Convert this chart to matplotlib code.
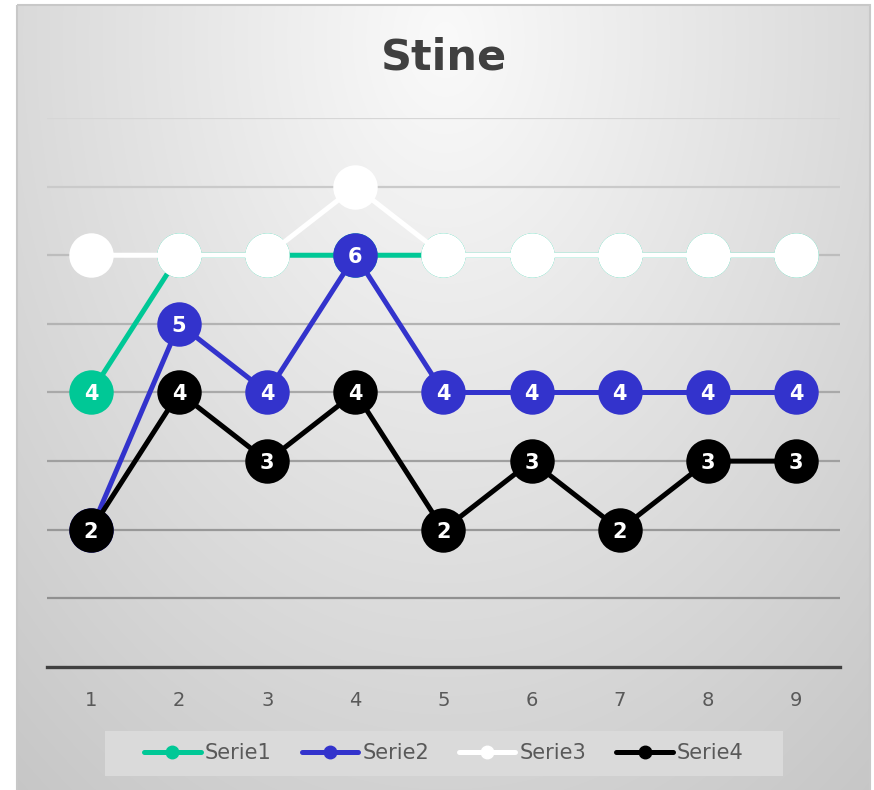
import numpy as np
import matplotlib
matplotlib.use("Agg")
import matplotlib.pyplot as plt
from matplotlib.patches import Rectangle
from matplotlib.lines import Line2D

# ---- data ----
categories = [1, 2, 3, 4, 5, 6, 7, 8, 9]
serie1 = [4, 6, 6, 6, 6, 6, 6, 6, 6]
serie2 = [2, 5, 4, 6, 4, 4, 4, 4, 4]
serie3 = [6, 6, 6, 7, 6, 6, 6, 6, 6]
serie4 = [2, 4, 3, 4, 2, 3, 2, 3, 3]
series_names = ["Serie1", "Serie2", "Serie3", "Serie4"]
series_colors = ["#00C896", "#3333CC", "#FFFFFF", "#000000"]
title = "Stine"

W, H = 874, 790
fig = plt.figure(figsize=(W / 100, H / 100), dpi=100)
fig.patch.set_facecolor("white")

# ---- gradient background panel ----
fx0, fx1, fy0 = 17, 870, 5
bg = fig.add_axes([0, 0, 1, 1], zorder=-10)
yy, xx = np.mgrid[0:H, 0:W]
r = np.sqrt(((xx - 445) / 620.0) ** 2 + ((yy - 40) / 880.0) ** 2)
v = np.clip(250 - 47 * r, 0, 255) / 255.0
inside = (xx >= fx0) & (xx <= fx1) & (yy >= fy0)
img = np.where(inside, v, 1.0)
bg.imshow(np.dstack([img, img, img]), extent=(0, W, H, 0), aspect="auto", interpolation="bilinear")
bg.add_patch(Rectangle((fx0, fy0), fx1 - fx0, H, fill=False, edgecolor="#c8c8c8", linewidth=1.5))
bg.set_xlim(0, W)
bg.set_ylim(H, 0)
bg.axis("off")

# ---- legend background box ----
bg.add_patch(Rectangle((105, 731), 783 - 105, 776 - 731, facecolor="#dadada", edgecolor="none"))

# ---- main axes ----
left, right, top, bottom = 47, 840, 118, 667
ax = fig.add_axes([left / W, (H - bottom) / H, (right - left) / W, (bottom - top) / H])
ax.set_facecolor("none")
ax.set_xlim(0.5, 9.5)
ax.set_ylim(0, 8)
ax.set_yticks(range(1, 9))
ax.set_yticklabels([])
ax.tick_params(axis="y", length=0)
ax.set_xticks(categories)
ax.set_xticklabels([str(c) for c in categories], fontsize=14, color="#595959")
ax.tick_params(axis="x", length=0, pad=17)
for s in ["left", "right", "top"]:
    ax.spines[s].set_visible(False)
ax.spines["bottom"].set_color("#404040")
ax.spines["bottom"].set_linewidth(2.4)
ax.spines["bottom"].set_zorder(1)

ax.yaxis.grid(True, linewidth=1.6)
grid_colors = ["#909090", "#989898", "#a0a0a0", "#a9a9a9", "#b3b3b3", "#bdbdbd", "#cacaca", "#d6d6d6"]
for gl, gc in zip(ax.get_ygridlines(), grid_colors):
    gl.set_color(gc)
ax.set_axisbelow(True)

all_series = [serie1, serie2, serie3, serie4]
for i, (vals, name, col) in enumerate(zip(all_series, series_names, series_colors)):
    z = 3 + i * 2
    ax.plot(categories, vals, color=col, linewidth=3.6, marker="o", markersize=32,
            markerfacecolor=col, markeredgecolor=col, markeredgewidth=0, zorder=z,
            solid_capstyle="round", clip_on=False)
    if col != "#FFFFFF":
        for x, y in zip(categories, vals):
            ax.text(x, y, str(y), ha="center", va="center_baseline", color="white",
                    fontsize=15, fontweight="bold", zorder=z + 0.5)

# ---- title ----
fig.text((left + right) / 2 / W, (H - 58) / H, title, ha="center", va="center",
         fontsize=31, fontweight="bold", color="#404040")

# ---- legend ----
handles = [Line2D([0], [0], color=c, linewidth=3.6, marker="o", markersize=9,
                  markerfacecolor=c, markeredgecolor=c, solid_capstyle="round")
           for c in series_colors]
leg = fig.legend(handles, series_names, loc="center", bbox_to_anchor=(444 / W, (H - 753) / H),
                 ncol=4, frameon=False, fontsize=15, handlelength=2.7, handletextpad=0.2,
                 columnspacing=1.45, labelcolor="#595959")

fig.savefig("out.png", dpi=100)
